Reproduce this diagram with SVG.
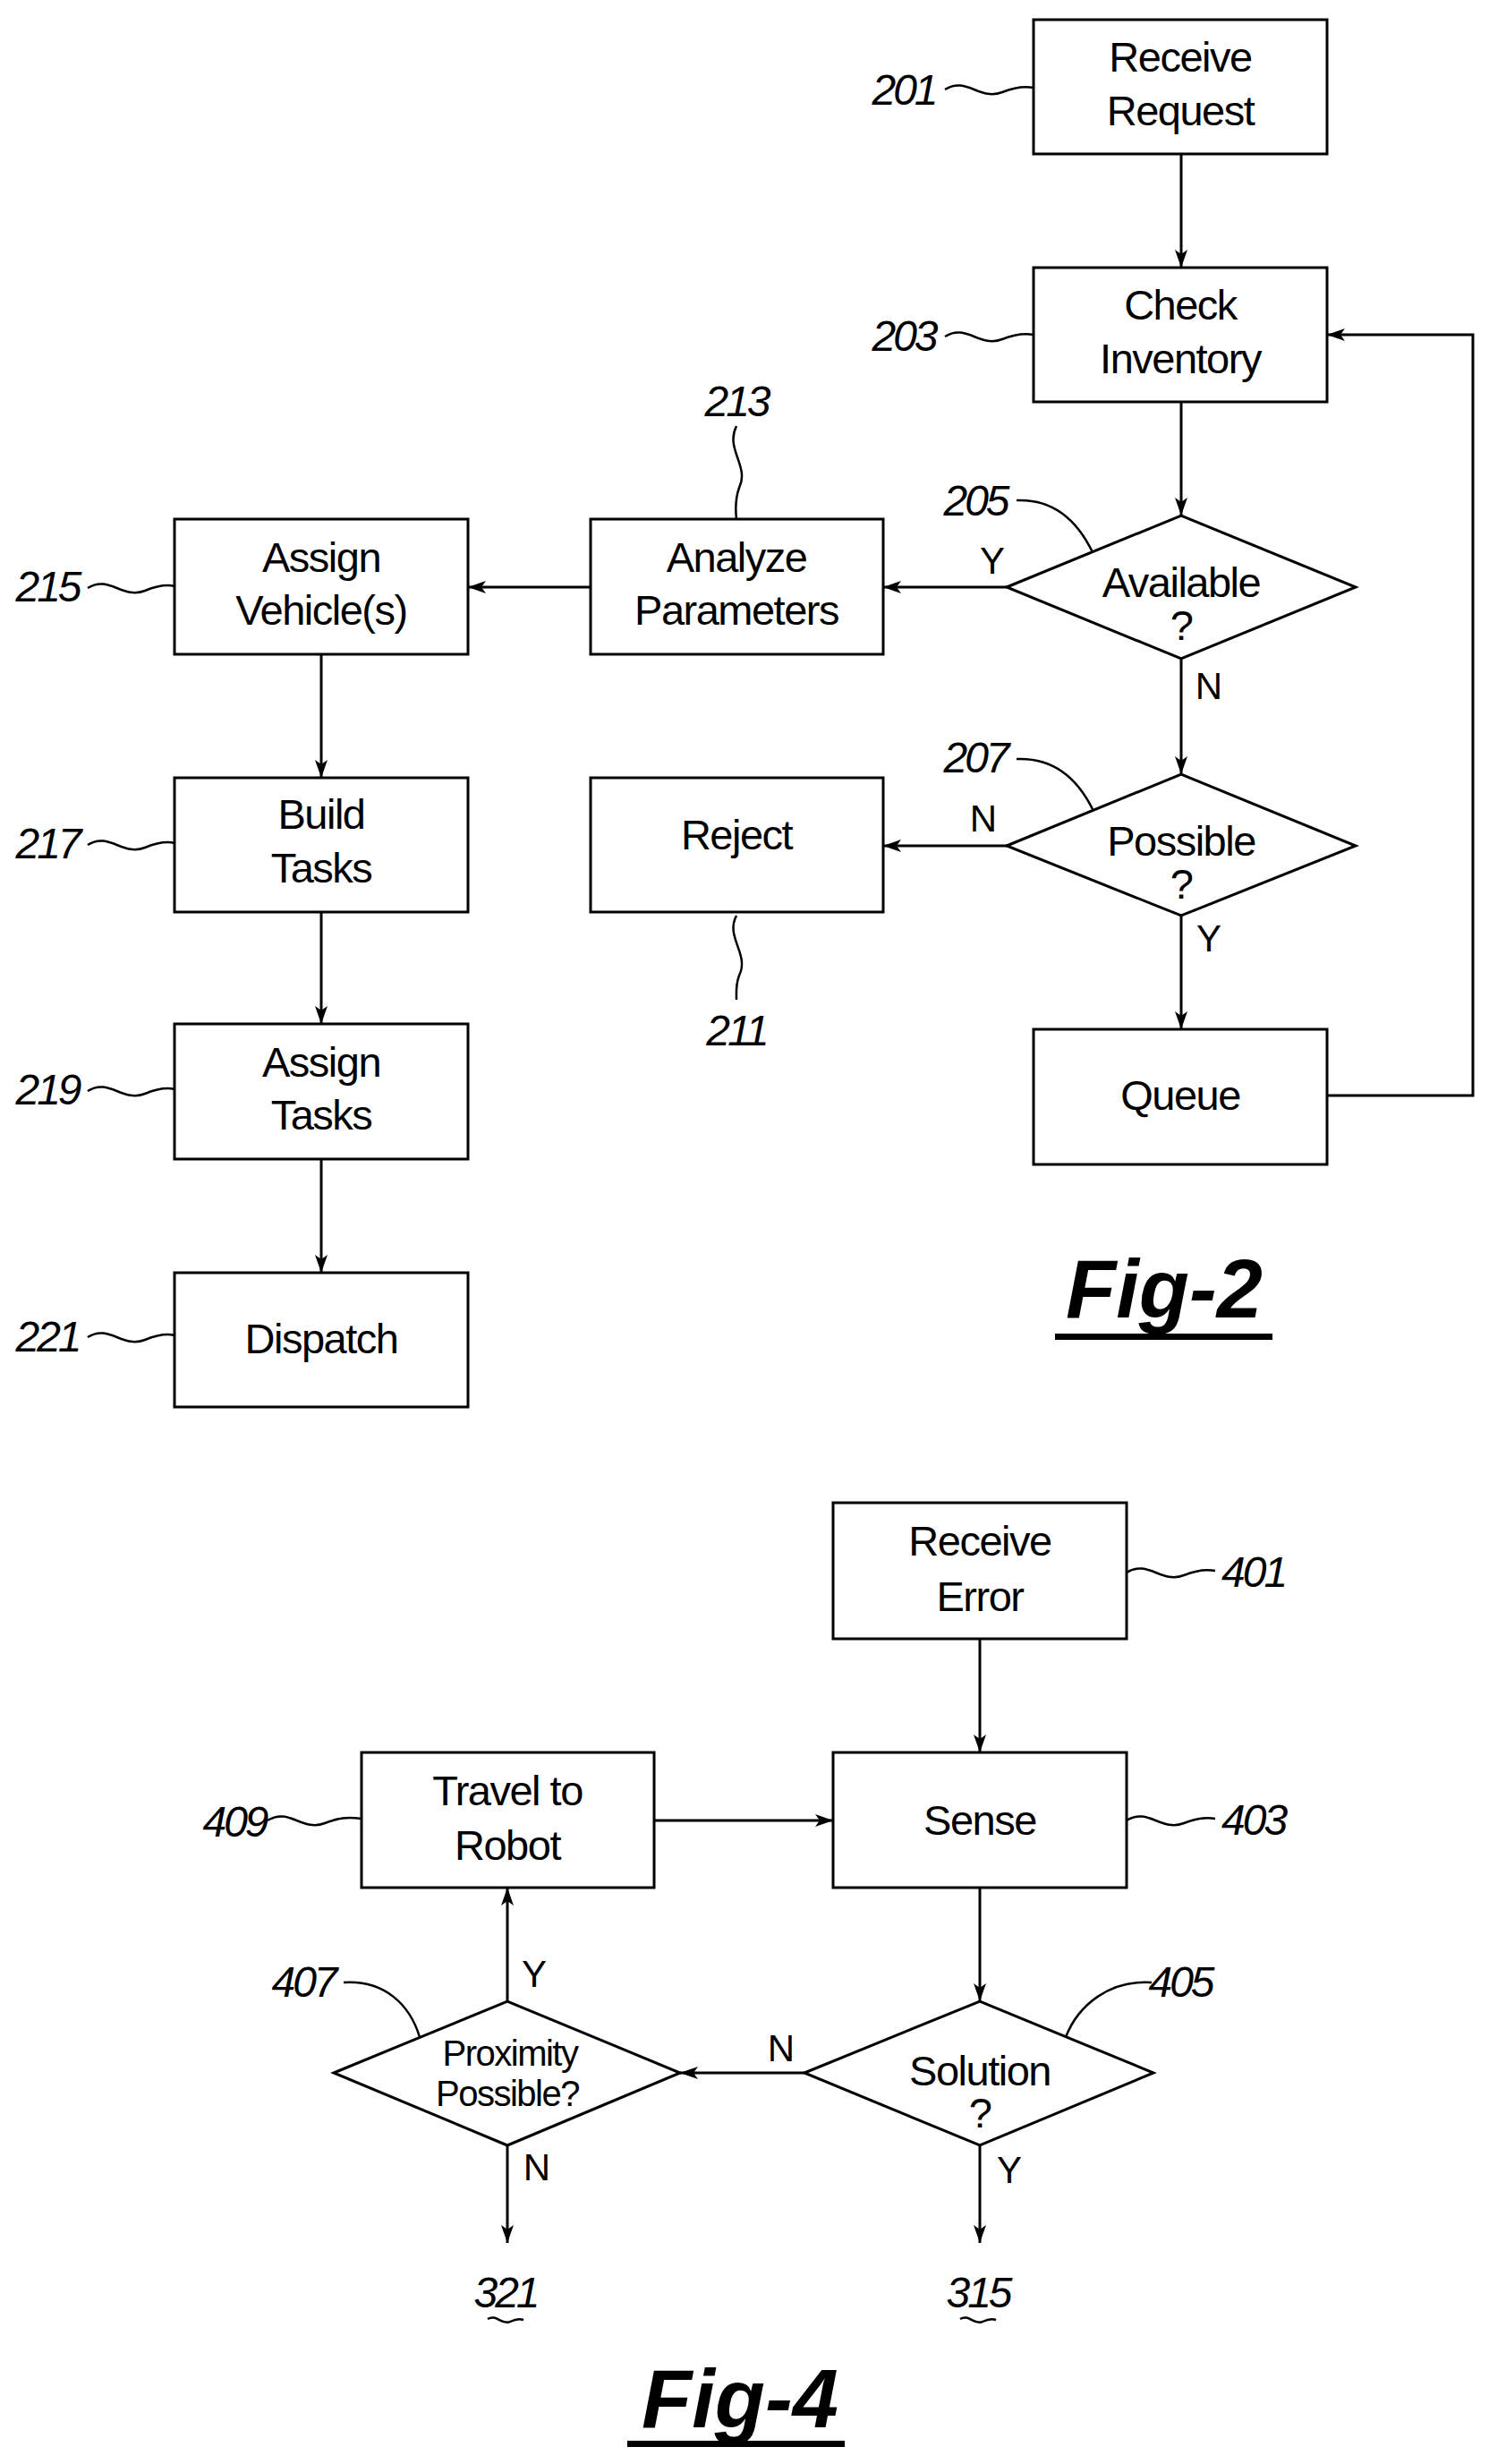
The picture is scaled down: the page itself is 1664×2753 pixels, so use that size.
<svg xmlns="http://www.w3.org/2000/svg" width="1664" height="2753" viewBox="0 0 1664 2753">
<defs>
<marker id="ah" viewBox="0 0 20 14" refX="20" refY="7" markerWidth="20" markerHeight="14" markerUnits="userSpaceOnUse" orient="auto"><path d="M0,0 L20,7 L0,14 L5,7 Z" fill="#000"/></marker>
</defs>
<style>
rect,polygon{fill:#fff;stroke:#000;stroke-width:3}
.c{fill:none;stroke:#000;stroke-width:3}
.a{marker-end:url(#ah)}
.l{fill:none;stroke:#000;stroke-width:2.5}
text{font-family:"Liberation Sans",Arial,sans-serif;fill:#000}
.t{font-size:47px;text-anchor:middle;letter-spacing:-1.5px}
.n{font-size:48px;font-style:italic;letter-spacing:-3px;text-anchor:middle}
.yn{font-size:42px;text-anchor:middle}
.fig{font-size:92px;font-style:italic;font-weight:bold;text-anchor:middle}
</style>
<rect width="1664" height="2753" style="fill:#fff;stroke:none"/>
<g id="connectors">
<path class="c a" d="M1320,172 V299"/>
<path class="c a" d="M1320,449 V576"/>
<path class="c a" d="M1125,656 H987"/>
<path class="c a" d="M660,656 H523"/>
<path class="c a" d="M1320,736 V865"/>
<path class="c a" d="M1125,945 H987"/>
<path class="c a" d="M1320,1023 V1150"/>
<path class="c a" d="M1483,1224 H1646 V374 H1483"/>
<path class="c a" d="M359,731 V869"/>
<path class="c a" d="M359,1019 V1144"/>
<path class="c a" d="M359,1295 V1422"/>
<path class="c a" d="M1095,1831 V1958"/>
<path class="c a" d="M731,2034 H931"/>
<path class="c a" d="M1095,2109 V2236"/>
<path class="c a" d="M899,2316 H760"/>
<path class="c a" d="M567,2236 V2109"/>
<path class="c a" d="M567,2397 V2506"/>
<path class="c a" d="M1095,2397 V2506"/>
</g>
<g id="n201"><rect x="1155" y="22" width="328" height="150"/><text class="t" x="1319" y="80">Receive</text><text class="t" x="1319" y="140">Request</text></g>
<g id="n203"><rect x="1155" y="299" width="328" height="150"/><text class="t" x="1319" y="357">Check</text><text class="t" x="1319" y="417">Inventory</text></g>
<g id="n205"><polygon points="1125,656 1320,576 1515,656 1320,736"/><text class="t" x="1320" y="667">Available</text><text class="t" x="1320" y="715">?</text></g>
<g id="n207"><polygon points="1125,945 1320,865 1515,945 1320,1023"/><text class="t" x="1320" y="956">Possible</text><text class="t" x="1320" y="1004">?</text></g>
<g id="n209"><rect x="1155" y="1150" width="328" height="151"/><text class="t" x="1319" y="1240">Queue</text></g>
<g id="n211"><rect x="660" y="869" width="327" height="150"/><text class="t" x="823" y="949">Reject</text></g>
<g id="n213"><rect x="660" y="580" width="327" height="151"/><text class="t" x="823" y="639">Analyze</text><text class="t" x="823" y="698">Parameters</text></g>
<g id="n215"><rect x="195" y="580" width="328" height="151"/><text class="t" x="359" y="639">Assign</text><text class="t" x="359" y="698">Vehicle(s)</text></g>
<g id="n217"><rect x="195" y="869" width="328" height="150"/><text class="t" x="359" y="926">Build</text><text class="t" x="359" y="986">Tasks</text></g>
<g id="n219"><rect x="195" y="1144" width="328" height="151"/><text class="t" x="359" y="1203">Assign</text><text class="t" x="359" y="1262">Tasks</text></g>
<g id="n221"><rect x="195" y="1422" width="328" height="150"/><text class="t" x="359" y="1512">Dispatch</text></g>
<g id="labels2">
<text class="n" x="1010" y="117">201</text><path class="l" d="M1056,100 C1080,85 1095,113 1120,103 C1135,97 1145,96 1155,98"/>
<text class="n" x="1010" y="392">203</text><path class="l" d="M1056,376 C1080,361 1095,389 1120,379 C1135,373 1145,372 1155,374"/>
<text class="n" x="1090" y="576">205</text><path class="l" d="M1136,559 C1180,557 1205,584 1221,617"/>
<text class="n" x="1090" y="863">207</text><path class="l" d="M1136,848 C1180,846 1205,872 1221,904"/>
<text class="n" x="823" y="465">213</text><path class="l" d="M823,476 C810,502 838,521 826,545 C821,559 822,571 823,580"/>
<text class="n" x="823" y="1168">211</text><path class="l" d="M823,1023 C810,1047 838,1066 826,1090 C822,1100 823,1108 823,1117"/>
<text class="n" x="53" y="672">215</text><path class="l" d="M98,657 C122,642 137,670 162,660 C177,654 187,653 195,655"/>
<text class="n" x="53" y="959">217</text><path class="l" d="M98,944 C122,929 137,957 162,947 C177,941 187,940 195,942"/>
<text class="n" x="53" y="1234">219</text><path class="l" d="M98,1219 C122,1204 137,1232 162,1222 C177,1216 187,1215 195,1217"/>
<text class="n" x="53" y="1510">221</text><path class="l" d="M98,1494 C122,1479 137,1507 162,1497 C177,1491 187,1490 195,1492"/>
<text class="yn" x="1109" y="641">Y</text>
<text class="yn" x="1351" y="781">N</text>
<text class="yn" x="1099" y="929">N</text>
<text class="yn" x="1351" y="1063">Y</text>
<text class="fig" x="1301" y="1472">Fig-2</text><rect x="1179" y="1490" width="243" height="7" style="fill:#000;stroke:none"/>
</g>
<g id="n401"><rect x="931" y="1679" width="328" height="152"/><text class="t" x="1095" y="1738">Receive</text><text class="t" x="1095" y="1800">Error</text></g>
<g id="n403"><rect x="931" y="1958" width="328" height="151"/><text class="t" x="1095" y="2050">Sense</text></g>
<g id="n409"><rect x="404" y="1958" width="327" height="151"/><text class="t" x="567" y="2017">Travel to</text><text class="t" x="567" y="2078">Robot</text></g>
<g id="n405"><polygon points="899,2316 1095,2236 1289,2316 1095,2397"/><text class="t" x="1095" y="2330">Solution</text><text class="t" x="1095" y="2377">?</text></g>
<g id="n407"><polygon points="373,2316 567,2236 760,2316 567,2397"/><text class="t" x="570" y="2308" style="font-size:40px">Proximity</text><text class="t" x="567" y="2353" style="font-size:40px">Possible?</text></g>
<g id="labels4">
<text class="n" x="1365" y="1773" style="text-anchor:start">401</text><path class="l" d="M1259,1757 C1283,1742 1298,1770 1323,1760 C1338,1754 1348,1753 1358,1755"/>
<text class="n" x="1365" y="2050" style="text-anchor:start">403</text><path class="l" d="M1259,2034 C1283,2019 1298,2047 1323,2037 C1338,2031 1348,2030 1358,2032"/>
<text class="n" x="262" y="2052">409</text><path class="l" d="M299,2034 C323,2019 338,2047 363,2037 C378,2031 388,2030 404,2032"/>
<text class="n" x="339" y="2231">407</text><path class="l" d="M384,2215 C430,2212 458,2240 469,2276"/>
<text class="n" x="1319" y="2231">405</text><path class="l" d="M1287,2215 C1240,2212 1205,2240 1191,2276"/>
<text class="yn" x="597" y="2220">Y</text>
<text class="yn" x="600" y="2436">N</text>
<text class="yn" x="873" y="2303">N</text>
<text class="yn" x="1128" y="2439">Y</text>
<text class="n" x="565" y="2578">321</text><path class="l" d="M545,2591 C555,2585 560,2598 570,2594 C576,2591 580,2590 585,2592"/>
<text class="n" x="1093" y="2578">315</text><path class="l" d="M1073,2591 C1083,2585 1088,2598 1098,2594 C1104,2591 1108,2590 1113,2592"/>
<text class="fig" x="827" y="2712">Fig-4</text><rect x="701" y="2727" width="243" height="7" style="fill:#000;stroke:none"/>
</g>
</svg>
